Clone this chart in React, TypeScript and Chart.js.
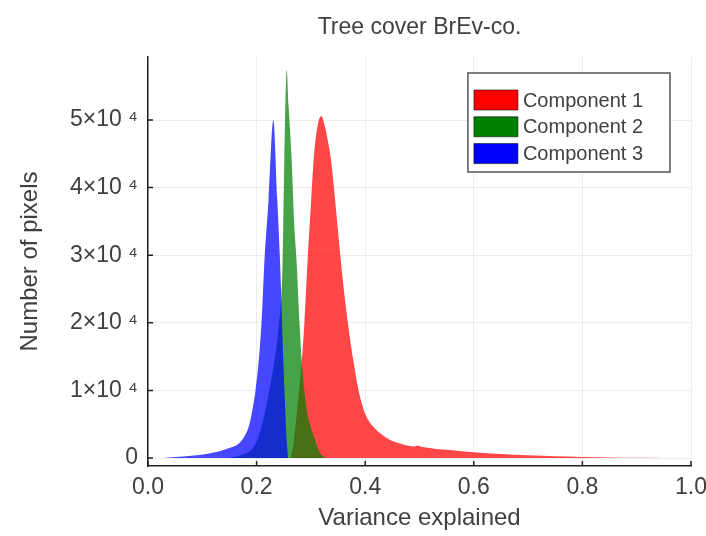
import React, { useEffect, useRef } from "react";
import { Chart, registerables } from "chart.js";

Chart.register(...registerables);

const CHART_TITLE = "Tree cover BrEv-co.";
const X_TITLE = "Variance explained";
const Y_TITLE = "Number of pixels";
const SERIES_LABELS = ["Component 1", "Component 2", "Component 3"];
const SERIES_RGB = ["255,0,0", "0,128,0", "0,0,255"];

// Component 1 (red)
const comp1X = [0.262, 0.268, 0.272, 0.277, 0.283, 0.288, 0.294, 0.3, 0.305, 0.312, 0.319, 0.326, 0.331, 0.337, 0.346, 0.355, 0.362, 0.369, 0.375, 0.38, 0.387, 0.3965, 0.405, 0.415, 0.43, 0.446, 0.47, 0.49, 0.497, 0.503, 0.515, 0.53, 0.556, 0.6, 0.65, 0.7, 0.75, 0.8, 0.85, 0.9, 0.95, 0.99];
const comp1Y = [0, 2000, 5000, 9000, 14000, 20000, 29300, 37500, 44100, 49000, 50600, 49000, 47000, 44100, 37000, 29300, 24000, 19500, 16000, 13500, 10300, 7300, 5700, 4630, 3500, 2660, 2000, 1700, 1850, 1650, 1500, 1350, 1180, 850, 600, 400, 260, 160, 90, 45, 15, 0];

// Component 2 (green)
const comp2X = [0.15, 0.17, 0.19, 0.2, 0.21, 0.22, 0.23, 0.24, 0.248, 0.251, 0.2554, 0.259, 0.2646, 0.269, 0.2735, 0.279, 0.283, 0.2923, 0.3, 0.3076, 0.314, 0.32, 0.328];
const comp2Y = [0, 400, 1200, 2400, 5000, 8500, 13000, 19000, 29300, 44100, 57400, 52000, 44100, 35000, 29300, 20000, 14500, 7100, 4500, 2660, 1200, 400, 0];

// Component 3 (blue)
const comp3X = [0.028, 0.05, 0.08, 0.108, 0.13, 0.151, 0.165, 0.176, 0.185, 0.192, 0.198, 0.204, 0.209, 0.2145, 0.222, 0.2308, 0.2381, 0.2431, 0.2492, 0.2528, 0.2555, 0.258];
const comp3Y = [0, 150, 350, 600, 950, 1500, 2000, 3000, 4500, 7000, 10000, 14500, 20000, 29300, 38200, 50000, 38200, 29300, 14500, 7100, 2500, 0];

const X_TICKS = [0, 0.2, 0.4, 0.6, 0.8, 1.0];
const Y_TICKS = [0, 10000, 20000, 30000, 40000, 50000];
const Y_TICK_LABELS = ["0", "1×10 ⁴", "2×10 ⁴", "3×10 ⁴", "4×10 ⁴", "5×10 ⁴"];

const FONT = "'Liberation Sans', Arial, Helvetica, sans-serif";
const TEXT = "#404040";
const GRID = "rgba(0,0,0,0.07)";

const titlePlugin = {
  id: "plotTitle",
  afterDraw(chart: any) {
    const { ctx, chartArea } = chart;
    ctx.save();
    ctx.font = `23px ${FONT}`;
    ctx.fillStyle = TEXT;
    ctx.textAlign = "center";
    ctx.textBaseline = "middle";
    ctx.fillText(CHART_TITLE, (chartArea.left + chartArea.right) / 2, 28);
    ctx.restore();
  },
};

const insideTicksPlugin = {
  id: "insideTicks",
  afterDatasetsDraw(chart: any) {
    const { ctx, chartArea, scales } = chart;
    ctx.save();
    ctx.strokeStyle = "#222";
    ctx.lineWidth = 1.5;
    ctx.beginPath();
    scales.x.ticks.forEach((t: any) => {
      const px = scales.x.getPixelForValue(t.value);
      ctx.moveTo(px, chartArea.bottom);
      ctx.lineTo(px, chartArea.bottom - 5);
    });
    scales.y.ticks.forEach((t: any) => {
      const py = scales.y.getPixelForValue(t.value);
      ctx.moveTo(chartArea.left, py);
      ctx.lineTo(chartArea.left + 5, py);
    });
    ctx.stroke();
    ctx.restore();
  },
};

const legendPlugin = {
  id: "boxLegend",
  afterDraw(chart: any) {
    const { ctx, chartArea } = chart;
    const ds = chart.data.datasets;
    ctx.save();
    ctx.font = `20px ${FONT}`;
    let maxW = 0;
    ds.forEach((d: any) => {
      maxW = Math.max(maxW, ctx.measureText(d.label).width);
    });
    const padL = 6, sw = 44, sh = 20, gap = 5, padR = 27, rowH = 26.8;
    const w = padL + sw + gap + maxW + padR;
    const h = 99;
    const right = chartArea.right - 21;
    const left = right - w;
    const top = chartArea.top + 16;
    ctx.fillStyle = "#ffffff";
    ctx.fillRect(left, top, w, h);
    ctx.strokeStyle = "#555";
    ctx.lineWidth = 1.5;
    ctx.strokeRect(left, top, w, h);
    ds.forEach((d: any, i: number) => {
      const cy = top + 27 + i * rowH;
      ctx.fillStyle = d.legendColor;
      ctx.strokeStyle = "rgba(0,0,0,0.55)";
      ctx.lineWidth = 1;
      ctx.beginPath();
      ctx.rect(left + padL, cy - sh / 2, sw, sh);
      ctx.fill();
      ctx.stroke();
      ctx.fillStyle = TEXT;
      ctx.textAlign = "left";
      ctx.textBaseline = "middle";
      ctx.fillText(d.label, left + padL + sw + gap, cy + 1);
    });
    ctx.restore();
  },
};

export default function App() {
  const ref = useRef<HTMLCanvasElement>(null);
  useEffect(() => {
    const canvas = ref.current!;
    const mk = (xs: number[], ys: number[]) => xs.map((x, i) => ({ x, y: ys[i] }));
    const series = [mk(comp1X, comp1Y), mk(comp2X, comp2Y), mk(comp3X, comp3Y)];
    const datasets = series.map((data, i) => ({
      label: SERIES_LABELS[i],
      data,
      order: 2 - i,
      backgroundColor: `rgba(${SERIES_RGB[i]},0.72)`,
      borderColor: `rgba(${SERIES_RGB[i]},0.72)`,
      legendColor: `rgb(${SERIES_RGB[i]})`,
      borderWidth: 0,
      fill: "origin",
      pointRadius: 0,
      cubicInterpolationMode: "monotone",
    }));
    const chart = new Chart(canvas, {
      type: "line",
      data: { datasets } as any,
      options: {
        animation: false,
        responsive: false,
        layout: { padding: { top: 57, right: 15, left: 0, bottom: 0 } },
        plugins: {
          legend: { display: false },
          title: { display: false },
          tooltip: { enabled: false },
        },
        scales: {
          x: {
            type: "linear",
            min: 0,
            max: 1,
            afterBuildTicks: (s: any) => {
              s.ticks = X_TICKS.map((v) => ({ value: v }));
            },
            afterFit: (s: any) => {
              s.height = 70;
              s.paddingLeft = 0;
              s.paddingRight = 0;
            },
            ticks: {
              callback: (v: any) => Number(v).toFixed(1),
              font: { family: FONT, size: 23 },
              color: TEXT,
              padding: 8,
              maxRotation: 0,
              autoSkip: false,
            },
            grid: { color: GRID, drawTicks: false, lineWidth: 1 },
            border: { color: "#222", width: 1.5 },
            title: {
              display: true,
              text: X_TITLE,
              font: { family: FONT, size: 24 },
              color: TEXT,
              padding: { top: 0, bottom: 3 },
            },
          },
          y: {
            type: "linear",
            min: -1183,
            max: 59320,
            afterBuildTicks: (s: any) => {
              s.ticks = Y_TICKS.map((v) => ({ value: v }));
            },
            afterFit: (s: any) => {
              s.width = 148;
              s.paddingTop = 0;
              s.paddingBottom = 0;
            },
            ticks: {
              callback: (v: any) => {
                const i = Y_TICKS.indexOf(Number(v));
                return i >= 0 ? Y_TICK_LABELS[i] : "";
              },
              font: { family: FONT, size: 23 },
              color: TEXT,
              padding: 10,
              autoSkip: false,
            },
            grid: { color: GRID, drawTicks: false, lineWidth: 1 },
            border: { color: "#222", width: 1.5 },
            title: {
              display: true,
              text: Y_TITLE,
              font: { family: FONT, size: 24 },
              color: TEXT,
              padding: { top: 16, bottom: 0 },
            },
          },
        },
      } as any,
      plugins: [titlePlugin, insideTicksPlugin, legendPlugin],
    });
    return () => chart.destroy();
  }, []);
  return (
    <div style={{ position: "fixed", left: 0, top: 0, width: 706, height: 536, background: "#fff" }}>
      <canvas ref={ref} width={706} height={536} style={{ display: "block" }} />
    </div>
  );
}
